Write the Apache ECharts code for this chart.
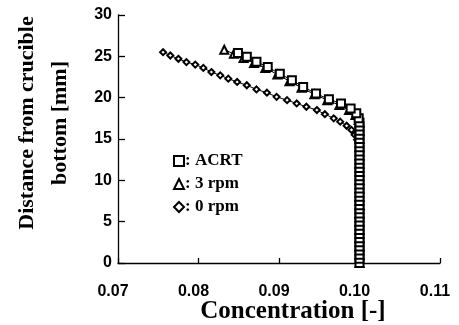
<!DOCTYPE html>
<html>
<head>
<meta charset="utf-8">
<script src="https://cdn.jsdelivr.net/npm/echarts@6/dist/echarts.min.js"></script>
<style>
  html, body { margin: 0; padding: 0; background: #fff; }
  #chart { width: 459px; height: 325px; }
</style>
</head>
<body>
<div id="chart"></div>
<script>
// ACRT
const acrtConc = [
  0.1, 0.1, 0.1, 0.1, 0.1, 0.1, 0.1, 0.1, 0.1, 0.1, 0.1, 0.1,
  0.1, 0.1, 0.1, 0.1, 0.1, 0.1, 0.1, 0.1, 0.1, 0.1, 0.1, 0.1,
  0.1, 0.1, 0.1, 0.1, 0.1, 0.1, 0.1, 0.1, 0.1, 0.1, 0.1,
  0.0999, 0.0996, 0.0989, 0.0977, 0.0962, 0.0946, 0.0930, 0.0916,
  0.0901, 0.0886, 0.0872, 0.0860, 0.0849
];
const acrtDist = [
  0, 0.5, 1, 1.5, 2, 2.5, 3, 3.5, 4, 4.5, 5, 5.5,
  6, 6.5, 7, 7.5, 8, 8.5, 9, 9.5, 10, 10.5, 11, 11.5,
  12, 12.5, 13, 13.5, 14, 14.5, 15, 15.5, 16, 16.5, 17,
  17.5, 18.1, 18.7, 19.3, 19.8, 20.5, 21.3, 22.1,
  22.9, 23.7, 24.35, 24.95, 25.4
];

// 3 rpm
const rpm3Conc = [
  0.1, 0.1, 0.1, 0.1, 0.1, 0.1, 0.1, 0.1, 0.1,
  0.1, 0.1, 0.1, 0.1, 0.1, 0.1, 0.1, 0.1, 0.1,
  0.0999, 0.0995, 0.0987, 0.0975, 0.0960, 0.0944, 0.0928,
  0.0913, 0.0898, 0.0883, 0.0869, 0.0856, 0.0844, 0.0832
];
const rpm3Dist = [
  0, 1, 2, 3, 4, 5, 6, 7, 8,
  9, 10, 11, 12, 13, 14, 15, 16, 17,
  17.3, 17.9, 18.5, 19.1, 19.7, 20.4, 21.2,
  22.0, 22.8, 23.6, 24.2, 24.8, 25.3, 25.8
];

// 0 rpm
const rpm0Conc = [
  0.0999, 0.0999, 0.0999, 0.0999, 0.0999, 0.0999, 0.0999, 0.0999,
  0.0999, 0.0999, 0.0999, 0.0999, 0.0999, 0.0999, 0.0999, 0.0999,
  0.0999, 0.0999, 0.0999, 0.0999, 0.0999, 0.0999, 0.0999, 0.0999,
  0.0999, 0.0999, 0.0999, 0.0999, 0.0999, 0.0999,
  0.0997, 0.0994, 0.0990, 0.0984, 0.0976, 0.0968, 0.0957, 0.0947,
  0.0934, 0.0922, 0.0910, 0.0897, 0.0885, 0.0872, 0.0860, 0.0848,
  0.0837, 0.0827, 0.0816, 0.0806, 0.0796, 0.0785, 0.0775, 0.0765,
  0.0756
];
const rpm0Dist = [
  0, 0.5, 1, 1.5, 2, 2.5, 3, 3.5,
  4, 4.5, 5, 5.5, 6, 6.5, 7, 7.5,
  8, 8.5, 9, 9.5, 10, 10.5, 11, 11.5,
  12, 12.5, 13, 13.5, 14, 14.5,
  14.9, 15.5, 16.1, 16.6, 17.1, 17.5, 18.0, 18.5,
  18.9, 19.3, 19.7, 20.1, 20.6, 21.0, 21.5, 21.9,
  22.3, 22.7, 23.1, 23.6, 24.0, 24.3, 24.7, 25.1,
  25.5
];

const xTicks = [0.07, 0.08, 0.09, 0.10, 0.11];
const yTicks = [0, 5, 10, 15, 20, 25, 30];

const zip = (xs, ys) => xs.map((x, i) => [x, ys[i]]);

const chart = echarts.init(document.getElementById('chart'));

const axisText = {
  fontFamily: 'Liberation Sans',
  fontWeight: 'bold',
  fontSize: 16,
  color: '#000'
};

const option = {
  backgroundColor: '#fff',
  animation: false,
  grid: { left: 118, right: 19, top: 15, bottom: 62, outerBoundsMode: 'none' },
  legend: {
    orient: 'vertical',
    left: 173,
    top: 152,
    padding: 0,
    itemWidth: 10,
    itemHeight: 10,
    itemGap: 5,
    formatter: name => ': ' + name,
    textStyle: {
      fontFamily: 'Liberation Serif',
      fontWeight: 'bold',
      fontSize: 17,
      lineHeight: 18,
      color: '#000',
      padding: [0, 0, 0, -4]
    },
    itemStyle: { borderWidth: 2, borderColor: '#000', color: '#fff' },
    data: [
      { name: 'ACRT', icon: 'rect' },
      { name: '3 rpm', icon: 'triangle' },
      { name: '0 rpm', icon: 'diamond' }
    ]
  },
  xAxis: {
    type: 'value',
    min: xTicks[0],
    max: xTicks[xTicks.length - 1],
    interval: 0.01,
    name: 'Concentration [-]',
    nameLocation: 'middle',
    nameMoveOverlap: false,
    nameGap: 36,
    nameTextStyle: {
      fontFamily: 'Liberation Serif',
      fontWeight: 'bold',
      fontSize: 25,
      color: '#000',
      padding: [0, 0, 0, 28]
    },
    axisLine: { lineStyle: { color: '#000', width: 1.3 } },
    axisTick: { inside: true, length: 5, lineStyle: { color: '#000', width: 1.3 } },
    axisLabel: Object.assign({
      margin: 21,
      padding: [0, 10, 0, 0],
      formatter: v => v.toFixed(2)
    }, axisText),
    splitLine: { show: false }
  },
  yAxis: {
    type: 'value',
    min: yTicks[0],
    max: yTicks[yTicks.length - 1],
    interval: 5,
    name: 'Distance from crucible\nbottom [mm]',
    nameLocation: 'middle',
    nameRotate: 90,
    nameGap: 41,
    nameTextStyle: {
      fontFamily: 'Liberation Serif',
      fontWeight: 'bold',
      fontSize: 22,
      lineHeight: 33,
      color: '#000',
      padding: [0, 0, 0, 32]
    },
    axisLine: { lineStyle: { color: '#000', width: 1.3 } },
    axisTick: { inside: true, length: 7, lineStyle: { color: '#000', width: 1.3 } },
    axisLabel: Object.assign({ margin: 6 }, axisText),
    splitLine: { show: false }
  },
  series: [
    {
      name: '0 rpm',
      type: 'line',
      data: zip(rpm0Conc, rpm0Dist),
      symbol: 'emptyDiamond',
      symbolSize: 6,
      lineStyle: { color: '#000', width: 1 },
      itemStyle: { color: '#000', borderWidth: 1.2 }
    },
    {
      name: '3 rpm',
      type: 'line',
      data: zip(rpm3Conc, rpm3Dist),
      symbol: 'emptyTriangle',
      symbolSize: 8,
      lineStyle: { color: '#000', width: 1 },
      itemStyle: { color: '#000', borderWidth: 1.5 }
    },
    {
      name: 'ACRT',
      type: 'line',
      data: zip(acrtConc, acrtDist),
      symbol: 'emptyRect',
      symbolSize: 8,
      lineStyle: { color: '#000', width: 1 },
      itemStyle: { color: '#000', borderWidth: 1.8 }
    }
  ]
};

chart.setOption(option);
</script>
</body>
</html>
